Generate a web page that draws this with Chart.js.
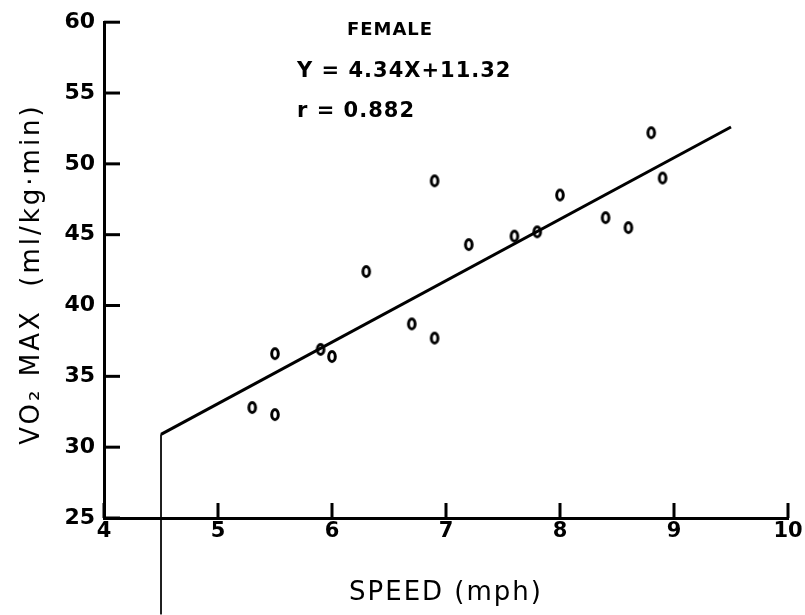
<!DOCTYPE html>
<html>
<head>
<meta charset="utf-8">
<title>VO2 max vs speed (female)</title>
<script src="https://cdn.jsdelivr.net/npm/chart.js@4"></script>
<style>
  html, body { margin: 0; padding: 0; background: #fff; }
  #chart { display: block; }
</style>
</head>
<body>
<canvas id="chart" width="805" height="615"></canvas>
<script>
// Measured subjects: treadmill speed (mph) vs VO2 max (ml/kg·min)
const speeds = [5.3, 5.5, 5.5, 5.9, 6.0, 6.3, 6.7, 6.9, 6.9, 7.2, 7.6, 7.8, 8.0, 8.4, 8.6, 8.8, 8.9];
const vo2Values = [32.8, 32.3, 36.6, 36.9, 36.4, 42.4, 38.7, 37.7, 48.8, 44.3, 44.9, 45.2, 47.8, 46.2, 45.5, 52.2, 49.0];

// Ends of the regression line
const fitX = [4.5, 9.5];
const fitY = [30.9, 52.6];

// Thin guide line dropping down from the start of the fit
const guideX = [4.5, 4.5];
const guideY = [30.9, 18.2];

const xTicks = [4, 5, 6, 7, 8, 9, 10];
const yTicks = [25, 30, 35, 40, 45, 50, 55, 60];

const groupLabel = 'FEMALE';
const equationLabel = 'Y = 4.34X+11.32';
const corrLabel = 'r = 0.882';
const xTitle = 'SPEED (mph)';
const yTitle = 'VO\u2082 MAX  (ml/kg\u00b7min)';

const toPoints = (xs, ys) => xs.map((x, i) => ({ x: x, y: ys[i] }));

/**
 * Small "0"-shaped marker like the plotter symbol
 */
function makeMarker() {
  const c = document.createElement('canvas');
  c.width = 12;
  c.height = 15;
  const g = c.getContext('2d');
  g.strokeStyle = '#000';
  g.lineWidth = 3;
  g.beginPath();
  g.ellipse(6, 7.5, 3.3, 5, 0, 0, Math.PI * 2);
  g.stroke();
  return c;
}

// Ticks point inwards on the original, plus titles and the text block
const decorations = {
  id: 'decorations',
  afterDraw(chart) {
    const { ctx, chartArea } = chart;
    const x = chart.scales.x;
    const y = chart.scales.y;
    ctx.save();
    ctx.strokeStyle = '#000';
    ctx.fillStyle = '#000';
    ctx.lineWidth = 3;

    xTicks.forEach(v => {
      const px = x.getPixelForValue(v);
      ctx.beginPath();
      ctx.moveTo(px, chartArea.bottom);
      ctx.lineTo(px, chartArea.bottom - 15);
      ctx.stroke();
    });
    yTicks.forEach(v => {
      const py = y.getPixelForValue(v);
      ctx.beginPath();
      ctx.moveTo(chartArea.left, py);
      ctx.lineTo(chartArea.left + 16, py);
      ctx.stroke();
    });

    // axis titles
    ctx.font = '26px "DejaVu Sans"';
    ctx.letterSpacing = '2px';
    ctx.textAlign = 'center';
    ctx.textBaseline = 'middle';
    ctx.fillText(xTitle, (chartArea.left + chartArea.right) / 2, 593);

    ctx.save();
    ctx.translate(32, 274);
    ctx.rotate(-Math.PI / 2);
    ctx.letterSpacing = '3px';
    ctx.fillText(yTitle, 0, 0);
    ctx.restore();

    // group label, equation and r
    ctx.letterSpacing = '1px';
    ctx.font = 'bold 18px "DejaVu Sans"';
    ctx.fillText(groupLabel, 390, 30);
    ctx.textAlign = 'left';
    ctx.font = 'bold 21px "DejaVu Sans"';
    ctx.fillText(equationLabel, 297, 72);
    ctx.fillText(corrLabel, 297, 112);
    ctx.restore();
  }
};

Chart.defaults.font.family = '"DejaVu Sans", sans-serif';
Chart.defaults.color = '#000';

new Chart(document.getElementById('chart'), {
  type: 'scatter',
  data: {
    datasets: [
      {
        label: 'Subjects',
        data: toPoints(speeds, vo2Values),
        pointStyle: makeMarker(),
        pointRadius: 5,
        borderColor: '#000',
        backgroundColor: '#000'
      },
      {
        label: 'Fit',
        data: toPoints(fitX, fitY),
        showLine: true,
        pointRadius: 0,
        borderColor: '#000',
        borderWidth: 3
      },
      {
        label: 'Guide',
        data: toPoints(guideX, guideY),
        showLine: true,
        pointRadius: 0,
        borderColor: '#000',
        borderWidth: 1,
        clip: false
      }
    ]
  },
  options: {
    responsive: false,
    animation: false,
    layout: {
      padding: { top: 22, right: 17, left: 0, bottom: 0 }
    },
    plugins: {
      legend: { display: false },
      tooltip: { enabled: false }
    },
    scales: {
      x: {
        type: 'linear',
        min: 4,
        max: 10,
        afterBuildTicks: scale => { scale.ticks = xTicks.map(v => ({ value: v })); },
        afterFit: scale => { scale.height = 97; },
        grid: { drawOnChartArea: false, drawTicks: false },
        border: { display: true, color: '#000', width: 3 },
        ticks: {
          padding: 1,
          font: { size: 21, weight: 'bold' }
        }
      },
      y: {
        type: 'linear',
        min: 25,
        max: 60,
        afterBuildTicks: scale => { scale.ticks = yTicks.map(v => ({ value: v })); },
        afterFit: scale => { scale.width = 104; },
        grid: { drawOnChartArea: false, drawTicks: false },
        border: { display: true, color: '#000', width: 3 },
        ticks: {
          padding: 9,
          font: { size: 22, weight: 'bold' }
        }
      }
    }
  },
  plugins: [decorations]
});
</script>
</body>
</html>
